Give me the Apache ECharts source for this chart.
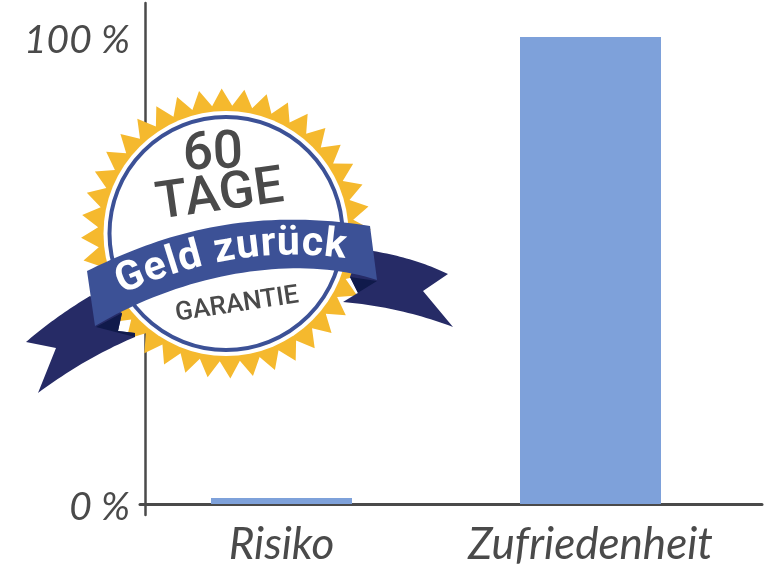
<!DOCTYPE html>
<html><head><meta charset="utf-8">
<style>html,body{margin:0;padding:0;background:#fff}#c{width:768px;height:568px}</style>
<script src="https://cdn.jsdelivr.net/npm/echarts@6/dist/echarts.min.js"></script>
</head><body><div id="c"></div>
<script>
const categories = ['Risiko', 'Zufriedenheit'];
const values = [1.3, 100];
const tickValues = [0, 100];
const badgeTitle = ['60', 'TAGE'];
const badgeBand = 'Geld zurück';
const badgeFoot = 'GARANTIE';

const AX = '#4a4a4a', HAND = '"Lato", "Open Sans", sans-serif';
const CX = 226, CY = 233.5;

function star(n, ro, ri) {
  const pts = [];
  for (let i = 0; i < n * 2; i++) {
    const a = Math.PI * i / n - Math.PI / 2 - 0.03, r = i % 2 ? ri : ro;
    pts.push([CX + r * Math.cos(a), CY + r * Math.sin(a)]);
  }
  return pts;
}
function cubic(p, t) {
  const u = 1 - t;
  return [0, 1].map(i => u*u*u*p[0][i] + 3*u*u*t*p[1][i] + 3*u*t*t*p[2][i] + t*t*t*p[3][i]);
}
function sample(p, n = 40) {
  const out = [];
  for (let i = 0; i <= n; i++) out.push(cubic(p, i / n));
  return out;
}
const mid = [[91, 298], [170, 255], [270, 230], [373, 253]];
function bez(t) {
  const u = 1 - t, c = cubic(mid, t);
  const d = i => 3*u*u*(mid[1][i]-mid[0][i]) + 6*u*t*(mid[2][i]-mid[1][i]) + 3*t*t*(mid[3][i]-mid[2][i]);
  return { x: c[0], y: c[1], a: Math.atan2(d(1), d(0)) };
}
function curvedText(str, font, fill, spacing) {
  const ctx = document.createElement('canvas').getContext('2d');
  ctx.font = font;
  const samples = []; let len = 0, prev = bez(0);
  for (let i = 0; i <= 400; i++) {
    const p = bez(i / 400); len += Math.hypot(p.x - prev.x, p.y - prev.y);
    samples.push({ len, p }); prev = p;
  }
  const chars = Array.from(str), widths = chars.map(c => ctx.measureText(c).width + spacing);
  const total = widths.reduce((a, b) => a + b, 0);
  let pos = (len - total) / 2 + 1;
  return chars.map((c, i) => {
    const target = pos + widths[i] / 2; pos += widths[i];
    const s = samples.find(q => q.len >= target) || samples[400];
    return { type: 'text', x: s.p.x, y: s.p.y, rotation: -s.p.a, z: 106,
      style: { text: c, font, fill, align: 'center', verticalAlign: 'middle' } };
  });
}
const poly = (points, fill, z) => ({ type: 'polygon', z, shape: { points }, style: { fill } });
const quad = (a, c, b) => sample([a, [a[0]+2/3*(c[0]-a[0]), a[1]+2/3*(c[1]-a[1])], [b[0]+2/3*(c[0]-b[0]), b[1]+2/3*(c[1]-b[1])], b], 24);

const graphics = [
  { type: 'polygon', z: 100, shape: { points: star(40, 145, 128) }, style: { fill: '#f5b92e' } },
  { type: 'circle', z: 101, shape: { cx: CX, cy: CY, r: 122.5 }, style: { fill: '#fff' } },
  { type: 'circle', z: 102, shape: { cx: CX, cy: CY, r: 116.5 }, style: { fill: '#fff', stroke: '#3c5196', lineWidth: 4 } },
  poly([...quad([90,296],[55,317],[26,342]), [56,348], ...quad([38,393],[85,358],[135,337]), [135,333], [118,331], [122,313]], '#262b66', 103),
  poly([...quad([373,251],[415,258],[448,274]), [423,291], ...quad([453,327],[400,307],[343,302]), [358,293], [350,277], [360,250]], '#262b66', 103),
  poly([[96,327],[122,313],[118,331],[135,333],[135,337]], '#101a4b', 104),
  poly([[350,277],[377,281],[343,302],[358,293]], '#101a4b', 104),
  poly([...sample([[87,271],[150,240],[240,205],[370,226]]), ...sample([[377,280],[300,255],[190,270],[95,326]])], '#3c5196', 105),
  { type: 'text', x: 213, y: 155, z: 106, rotation: 0.04,
    style: { text: badgeTitle[0], font: '500 53px Roboto', fill: '#4a4a4a', align: 'center', verticalAlign: 'middle' } },
  { type: 'text', x: 220, y: 197, z: 106, rotation: 0.14,
    style: { text: badgeTitle[1], font: '500 52px Roboto', fill: '#4a4a4a', align: 'center', verticalAlign: 'middle' } },
  { type: 'text', x: 237, y: 305, z: 106, rotation: 0.15,
    style: { text: badgeFoot, font: '500 26px Roboto', fill: '#4a4a4a', align: 'center', verticalAlign: 'middle' } },
  ...curvedText(badgeBand, 'bold 41px Roboto', '#ffffff', 1.5)
];

const hidden = { show: false };
const chart = echarts.init(document.getElementById('c'), null, { renderer: 'canvas' });
chart.setOption({
  backgroundColor: '#ffffff',
  animation: false,
  grid: [
    { left: 127, top: 37, width: 618, height: 467, outerBoundsMode: 'none' },
    { left: 145, top: 3, width: 617, height: 512, outerBoundsMode: 'none' },
    { left: 140, top: 300, width: 622, height: 204, outerBoundsMode: 'none' }
  ],
  xAxis: [
    { gridIndex: 0, type: 'category', data: categories,
      axisLine: hidden, axisTick: hidden,
      axisLabel: { interval: 0, hideOverlap: false, margin: 18, color: AX, fontFamily: HAND, fontStyle: 'italic', fontWeight: 400, fontSize: 44, lineHeight: 46 } },
    { gridIndex: 1, type: 'value', show: false },
    { gridIndex: 2, type: 'value', axisLine: { show: true, onZero: false, lineStyle: { color: AX, width: 3 } }, axisTick: hidden, axisLabel: hidden, splitLine: hidden }
  ],
  yAxis: [
    { gridIndex: 0, type: 'value', min: 0, max: 100,
      axisLine: hidden, axisTick: hidden, splitLine: hidden,
      axisLabel: { customValues: tickValues, formatter: v => '{a|' + v + ' %}', margin: -3,
        rich: { a: { padding: [7, 0, 0, 0], color: AX, fontFamily: HAND, fontStyle: 'italic', fontWeight: 400, fontSize: 39 } } } },
    { gridIndex: 1, type: 'value', axisLine: { show: true, onZero: false, lineStyle: { color: AX, width: 2.5 } }, axisTick: hidden, axisLabel: hidden, splitLine: hidden },
    { gridIndex: 2, type: 'value', show: false }
  ],
  series: [{ type: 'bar', xAxisIndex: 0, yAxisIndex: 0, data: values, barWidth: 141, z: 1,
    itemStyle: { color: '#7ea1da' } }],
  graphic: { elements: graphics }
});
</script></body></html>
